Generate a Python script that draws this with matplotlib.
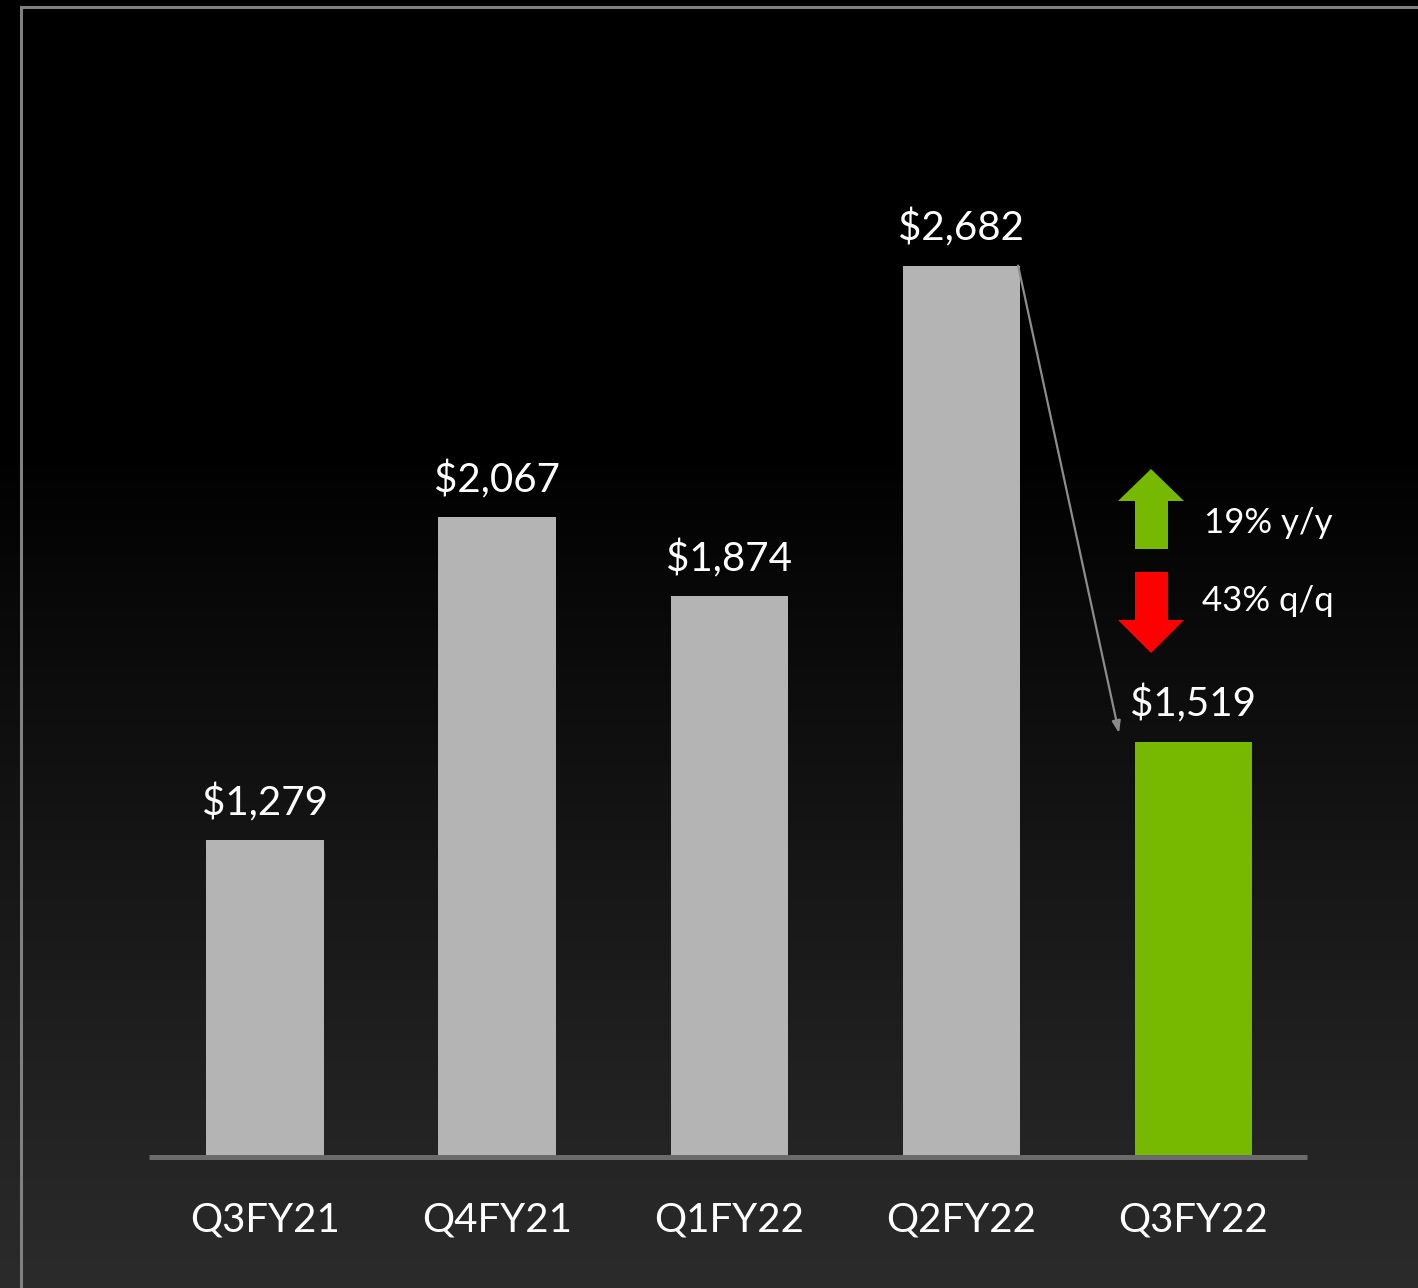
import numpy as np
import matplotlib
matplotlib.use("Agg")
import matplotlib.pyplot as plt
from matplotlib.patches import Polygon
from matplotlib.lines import Line2D

categories = ["Q3FY21", "Q4FY21", "Q1FY22", "Q2FY22", "Q3FY22"]
values = [1279, 2067, 1874, 2682, 1519]
value_labels = ["$1,279", "$2,067", "$1,874", "$2,682", "$1,519"]
bar_colors = ["#b4b4b4", "#b4b4b4", "#b4b4b4", "#b4b4b4", "#76b900"]
yy_text = "19% y/y"
qq_text = "43% q/q"

W, H = 1418, 1288
DPI = 100
plt.rcParams['font.family'] = ['Lato', 'DejaVu Sans']

fig = plt.figure(figsize=(W / DPI, H / DPI), dpi=DPI)
fig.patch.set_facecolor("black")

def fx(px):
    return px / W

def fy(py):
    return 1 - py / H

# background gradient
bg = fig.add_axes([0, 0, 1, 1], zorder=0)
bg.axis("off")
rows = np.arange(H)
g = np.clip((rows - 450) / (H - 450), 0, 1) ** 0.95 * 0.17
img = np.repeat(g[:, None], 4, axis=1)
bg.imshow(np.dstack([img, img, img]), aspect="auto", extent=[0, 1, 0, 1],
          interpolation="bilinear")
bg.set_xlim(0, 1)
bg.set_ylim(0, 1)

# border
fig.add_artist(Line2D([fx(21), fx(21)], [fy(7), fy(H + 5)], color="#808080", lw=2.2))
fig.add_artist(Line2D([fx(21), fx(W + 5)], [fy(7), fy(7)], color="#808080", lw=2.2))

# main axes
ax_left, ax_right, ax_bottom, ax_top = 149, 1307, 1157, 100
ax = fig.add_axes([fx(ax_left), fy(ax_bottom), (ax_right - ax_left) / W,
                   (ax_bottom - ax_top) / H], zorder=1)
ax.patch.set_alpha(0)
y0 = 505
px_per_unit = 0.4095
ax.set_ylim(y0, y0 + (ax_bottom - ax_top) / px_per_unit)
ax.set_xlim(-0.5, 4.49)
x = np.arange(len(categories))
ax.bar(x, values, width=0.505, color=bar_colors, zorder=2)
for s in ["top", "right", "left"]:
    ax.spines[s].set_visible(False)
ax.spines["bottom"].set_color("#6b6b6b")
ax.spines["bottom"].set_linewidth(3.6)
ax.spines["bottom"].set_capstyle("butt")
ax.spines["bottom"].set_zorder(3)
ax.set_yticks([])
ax.set_xticks(x)
ax.set_xticklabels(categories, color="white", fontsize=29)
ax.tick_params(axis="x", length=0, pad=32)

for xi, v, lab in zip(x, values, value_labels):
    ax.annotate(lab, (xi, v), xytext=(0, 13), textcoords="offset points",
                ha="center", va="bottom", color="white", fontsize=29)

# diagonal arrow from Q2FY22 to Q3FY22
ax.annotate("", xy=(3.68, 1540), xytext=(3.245, values[3]),
            arrowprops=dict(arrowstyle="-|>,head_length=0.7,head_width=0.25",
                            color="#8c8c8c", lw=1.6, shrinkA=0, shrinkB=0))

# up green arrow
up = [(1135, 549), (1168, 549), (1168, 501), (1184, 501), (1151, 469),
      (1118, 501), (1135, 501)]
fig.add_artist(Polygon([(fx(a), fy(b)) for a, b in up], closed=True,
                       facecolor="#76b900", edgecolor="none", zorder=5))
down = [(1135, 572), (1168, 572), (1168, 620), (1184, 620), (1151, 653),
        (1118, 620), (1135, 620)]
fig.add_artist(Polygon([(fx(a), fy(b)) for a, b in down], closed=True,
                       facecolor="#ff0000", edgecolor="none", zorder=5))

fig.text(fx(1204), fy(523), yy_text, color="white", fontsize=25,
         ha="left", va="center")
fig.text(fx(1202), fy(601), qq_text, color="white", fontsize=25,
         ha="left", va="center")

fig.savefig("out.png", dpi=DPI, facecolor=fig.get_facecolor())
